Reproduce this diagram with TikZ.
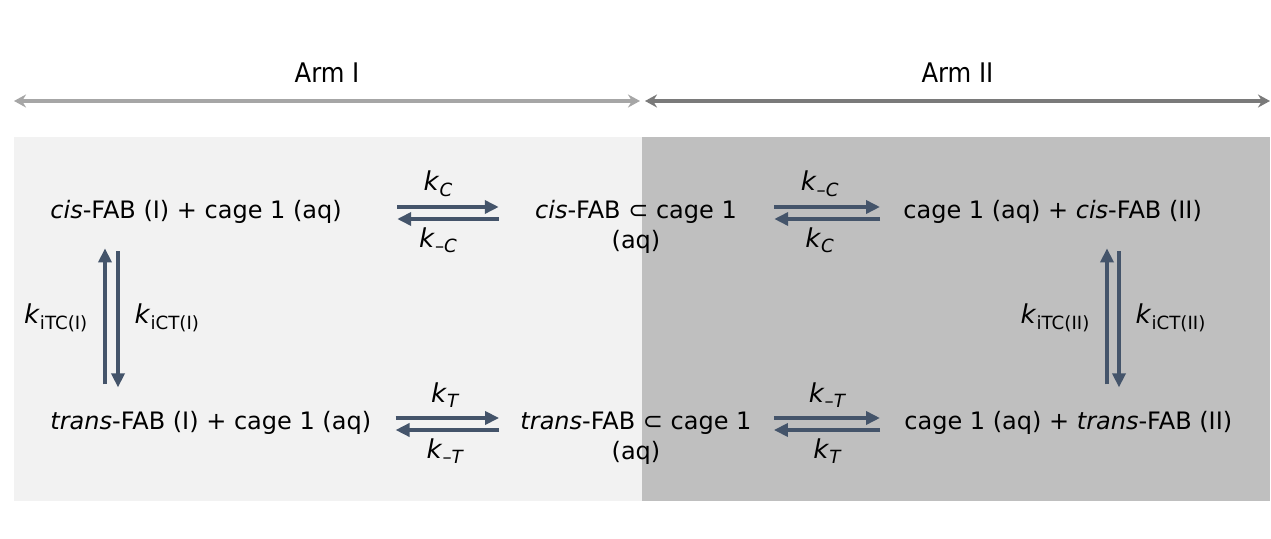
\documentclass[tikz,border=0pt]{standalone}
\usepackage{fontspec}
\setmainfont{DejaVu Sans}
\newfontfamily\armfont{DejaVu Sans Condensed}
\usetikzlibrary{arrows.meta}
\definecolor{ratecol}{HTML}{44546A}
\definecolor{armone}{HTML}{A6A6A6}
\definecolor{armtwo}{HTML}{7A7A7A}
\definecolor{lightbg}{HTML}{F2F2F2}
\definecolor{darkbg}{HTML}{BFBFBF}
\newcommand{\kr}[1]{\textit{k}\textsubscript{#1}}

\begin{document}
\begin{tikzpicture}[x=0.5pt,y=-0.5pt,
  species/.style={inner sep=0pt,font=\fontsize{12}{15}\selectfont,align=center},
  rate/.style={draw=ratecol,line width=2pt,-{Triangle[length=7pt,width=6.5pt]}},
  arm/.style={line width=1.6pt,{Stealth[length=6pt,width=6.5pt]}-{Stealth[length=6pt,width=6.5pt]}},
  every node/.style={font=\fontsize{13}{15}\selectfont}]

  \useasboundingbox (0,0) rectangle (1271,539);
  \fill[lightbg] (14,137) rectangle (642,501);
  \fill[darkbg] (642,137) rectangle (1270,501);

  % arms
  \coordinate (A1) at (14,101);
  \coordinate (A2) at (640,101);
  \coordinate (A3) at (645,101);
  \coordinate (A4) at (1270,101);
  \draw[arm,armone] (A1) -- node[above=5pt,black,font=\armfont\fontsize{13.5}{15}\selectfont] {Arm I} (A2);
  \draw[arm,armtwo] (A3) -- node[above=5pt,black,font=\armfont\fontsize{13.5}{15}\selectfont] {Arm II} (A4);

  % species (two-line nodes sit on the baseline of their last line)
  \node[species,anchor=base west] (CL) at (50,219) {\textit{cis}-FAB (I) + cage 1 (aq)};
  \node[species,anchor=base] (CM) at (636,249) {\textit{cis}-FAB ⊂ cage 1\\(aq)};
  \node[species,anchor=base west] (CR) at (903,219) {cage 1 (aq) + \textit{cis}-FAB (II)};
  \node[species,anchor=base west] (TL) at (50,430) {\textit{trans}-FAB (I) + cage 1 (aq)};
  \node[species,anchor=base] (TM) at (636,460) {\textit{trans}-FAB ⊂ cage 1\\(aq)};
  \node[species,anchor=base west] (TR) at (904,430) {cage 1 (aq) + \textit{trans}-FAB (II)};

  \path
    ([yshift=6pt]CL.base east) edge[rate,shorten <=27.5pt,shorten >=18pt] node[above=1pt] {\kr{\textit{C}}} ([yshift=21pt]CM.base west)
    ([yshift=15pt]CM.base west) edge[rate,shorten <=18pt,shorten >=27.5pt] node[below] {\kr{–\textit{C}}} (CL.base east)
    ([yshift=21pt]CM.base east) edge[rate,shorten <=18.5pt,shorten >=11.5pt] node[above=1pt] {\kr{–\textit{C}}} ([yshift=6pt]CR.base west)
    (CR.base west) edge[rate,shorten <=11.5pt,shorten >=18.5pt] node[below] {\kr{\textit{C}}} ([yshift=15pt]CM.base east)
    ([yshift=6pt]TL.base east) edge[rate,shorten <=12pt,shorten >=10.5pt] node[above=1pt] {\kr{\textit{T}}} ([yshift=21pt]TM.base west)
    ([yshift=15pt]TM.base west) edge[rate,shorten <=10.5pt,shorten >=12pt] node[below] {\kr{–\textit{T}}} (TL.base east)
    ([yshift=21pt]TM.base east) edge[rate,shorten <=11pt,shorten >=12pt] node[above=1pt] {\kr{–\textit{T}}} ([yshift=6pt]TR.base west)
    (TR.base west) edge[rate,shorten <=12pt,shorten >=11pt] node[below] {\kr{\textit{T}}} ([yshift=15pt]TM.base east);

  \path
    ([xshift=27.5pt]TL.north west) edge[rate,shorten <=13.5pt,shorten >=12pt] node[left=4pt] {\kr{iTC(I)}} ([xshift=27.5pt]CL.south west)
    ([xshift=34pt]CL.south west) edge[rate,shorten <=13.5pt,shorten >=12pt] node[right=4pt] {\kr{iCT(I)}} ([xshift=34pt]TL.north west)
    ([xshift=101.5pt]TR.north west) edge[rate,shorten <=13.5pt,shorten >=12pt] node[left=4pt] {\kr{iTC(II)}} ([xshift=102pt]CR.south west)
    ([xshift=108pt]CR.south west) edge[rate,shorten <=13.5pt,shorten >=12pt] node[right=4pt] {\kr{iCT(II)}} ([xshift=107.5pt]TR.north west);
\end{tikzpicture}
\end{document}
